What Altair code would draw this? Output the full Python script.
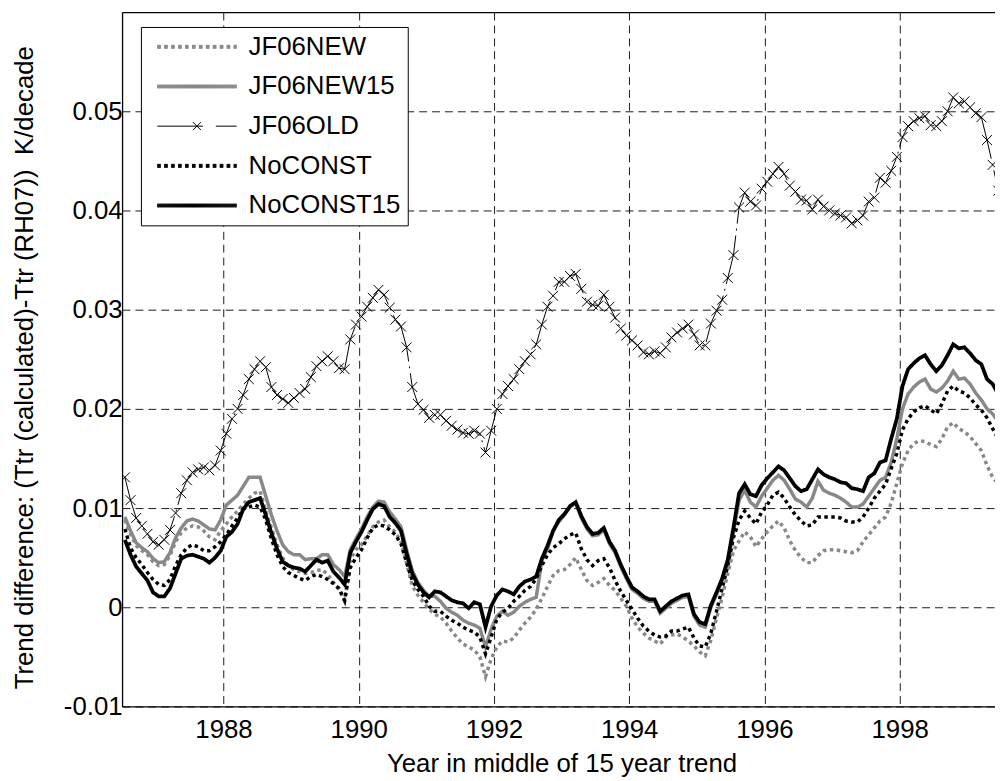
import pandas as pd
import altair as alt

FONT = "Liberation Sans"

series_names = ["JF06NEW", "JF06NEW15", "JF06OLD", "NoCONST", "NoCONST15"]

# monthly values, centre of 15 year trend, starting mid 1986
n_months = 156
years = [1986.5 + (i + 0.5) / 12 for i in range(n_months)]

jf06new = [
    0.0088, 0.0074, 0.0062, 0.0057, 0.0053, 0.0046, 0.0042, 0.0043, 0.0052, 0.0066, 0.0075, 0.0080,
    0.0082, 0.0081, 0.0077, 0.0071, 0.0068, 0.0077, 0.0084, 0.0091, 0.0097, 0.0104, 0.0110, 0.0115,
    0.0117, 0.0097, 0.0080, 0.0063, 0.0050, 0.0042, 0.0038, 0.0036, 0.0034, 0.0035, 0.0037, 0.0038,
    0.0033, 0.0025, 0.0018, 0.0006, 0.0048, 0.0058, 0.0063, 0.0072, 0.0081, 0.0086, 0.0088, 0.0081,
    0.0076, 0.0066, 0.0044, 0.0022, 0.0012, 0.0005, -0.0002, -0.0007, -0.0010, -0.0016, -0.0024, -0.0031,
    -0.0037, -0.0040, -0.0043, -0.0050, -0.0070, -0.0052, -0.0040, -0.0034, -0.0035, -0.0031, -0.0023, -0.0016,
    -0.0010, -0.0002, 0.0009, 0.0021, 0.0032, 0.0037, 0.0038, 0.0043, 0.0050, 0.0038, 0.0027, 0.0022,
    0.0025, 0.0029, 0.0022, 0.0017, 0.0009, 0.0001, -0.0011, -0.0020, -0.0026, -0.0031, -0.0034, -0.0037,
    -0.0030, -0.0028, -0.0027, -0.0030, -0.0034, -0.0039, -0.0045, -0.0049, -0.0033, -0.0011, 0.0010, 0.0034,
    0.0057, 0.0067, 0.0076, 0.0071, 0.0061, 0.0069, 0.0076, 0.0082, 0.0087, 0.0080, 0.0067, 0.0057,
    0.0050, 0.0045, 0.0045, 0.0052, 0.0057, 0.0058, 0.0058, 0.0057, 0.0056, 0.0055, 0.0057, 0.0066,
    0.0073, 0.0080, 0.0087, 0.0091, 0.0105, 0.0125, 0.0145, 0.0158, 0.0165, 0.0168, 0.0167, 0.0164,
    0.0162, 0.0170, 0.0182, 0.0186, 0.0180, 0.0177, 0.0172, 0.0165, 0.0158, 0.0143, 0.0131, 0.0124,
]

jf06new15 = [
    0.0091, 0.0077, 0.0065, 0.0060, 0.0056, 0.0049, 0.0045, 0.0046, 0.0055, 0.0070, 0.0080, 0.0087,
    0.0089, 0.0087, 0.0083, 0.0079, 0.0078, 0.0088, 0.0103, 0.0108, 0.0113, 0.0122, 0.0131, 0.0131,
    0.0131, 0.0112, 0.0093, 0.0077, 0.0063, 0.0056, 0.0053, 0.0053, 0.0048, 0.0049, 0.0049, 0.0053,
    0.0053, 0.0043, 0.0038, 0.0031, 0.0058, 0.0069, 0.0079, 0.0091, 0.0101, 0.0107, 0.0106, 0.0096,
    0.0089, 0.0081, 0.0058, 0.0037, 0.0025, 0.0017, 0.0011, 0.0011, 0.0006, -0.0001, -0.0005, -0.0008,
    -0.0013, -0.0016, -0.0018, -0.0021, -0.0040, -0.0022, -0.0009, -0.0004, -0.0008, -0.0005, 0.0001, 0.0005,
    0.0008, 0.0010, 0.0047, 0.0059, 0.0077, 0.0086, 0.0093, 0.0101, 0.0105, 0.0090, 0.0079, 0.0072,
    0.0073, 0.0078, 0.0064, 0.0055, 0.0041, 0.0029, 0.0018, 0.0014, 0.0009, 0.0006, 0.0006, -0.0006,
    -0.0001, 0.0004, 0.0007, 0.0010, 0.0011, -0.0009, -0.0018, -0.0020, 0.0000, 0.0013, 0.0027, 0.0046,
    0.0076, 0.0108, 0.0118, 0.0106, 0.0101, 0.0112, 0.0120, 0.0128, 0.0133, 0.0128, 0.0119, 0.0109,
    0.0106, 0.0101, 0.0110, 0.0127, 0.0118, 0.0115, 0.0113, 0.0110, 0.0106, 0.0101, 0.0101, 0.0104,
    0.0112, 0.0120, 0.0128, 0.0131, 0.0146, 0.0170, 0.0200, 0.0215, 0.0222, 0.0227, 0.0230, 0.0220,
    0.0217, 0.0221, 0.0228, 0.0238, 0.0230, 0.0231, 0.0225, 0.0216, 0.0209, 0.0200, 0.0195, 0.0187,
]

jf06old = [
    0.0131, 0.0108, 0.0090, 0.0082, 0.0074, 0.0066, 0.0063, 0.0068, 0.0078, 0.0095, 0.0115, 0.0128,
    0.0136, 0.0139, 0.0141, 0.0138, 0.0143, 0.0158, 0.0175, 0.0190, 0.0200, 0.0214, 0.0230, 0.0240,
    0.0248, 0.0242, 0.0222, 0.0214, 0.0210, 0.0206, 0.0211, 0.0216, 0.0220, 0.0232, 0.0243, 0.0248,
    0.0253, 0.0248, 0.0241, 0.0240, 0.0270, 0.0285, 0.0293, 0.0303, 0.0312, 0.0320, 0.0315, 0.0302,
    0.0290, 0.0283, 0.0262, 0.0222, 0.0205, 0.0199, 0.0191, 0.0194, 0.0194, 0.0188, 0.0183, 0.0179,
    0.0176, 0.0175, 0.0178, 0.0175, 0.0156, 0.0178, 0.0200, 0.0215, 0.0223, 0.0230, 0.0240, 0.0248,
    0.0255, 0.0265, 0.0285, 0.0303, 0.0314, 0.0328, 0.0328, 0.0334, 0.0336, 0.0321, 0.0308, 0.0305,
    0.0304, 0.0315, 0.0303, 0.0292, 0.0281, 0.0274, 0.0269, 0.0264, 0.0257, 0.0255, 0.0258, 0.0256,
    0.0262, 0.0272, 0.0277, 0.0281, 0.0285, 0.0275, 0.0264, 0.0264, 0.0286, 0.0299, 0.0310, 0.0332,
    0.0355, 0.0403, 0.0418, 0.0409, 0.0405, 0.0422, 0.0429, 0.0437, 0.0444, 0.0437, 0.0425, 0.0419,
    0.0411, 0.0410, 0.0401, 0.0411, 0.0404, 0.0400, 0.0397, 0.0395, 0.0393, 0.0387, 0.0390, 0.0395,
    0.0409, 0.0413, 0.0433, 0.0428, 0.0440, 0.0454, 0.0474, 0.0485, 0.0490, 0.0493, 0.0495, 0.0486,
    0.0485, 0.0490, 0.0500, 0.0514, 0.0508, 0.0510, 0.0504, 0.0498, 0.0494, 0.0471, 0.0446, 0.0420,
]

noconst = [
    0.0079, 0.0060, 0.0050, 0.0043, 0.0035, 0.0028, 0.0023, 0.0022, 0.0028, 0.0042, 0.0053, 0.0060,
    0.0063, 0.0061, 0.0057, 0.0057, 0.0061, 0.0066, 0.0073, 0.0082, 0.0090, 0.0099, 0.0101, 0.0103,
    0.0101, 0.0088, 0.0069, 0.0053, 0.0041, 0.0035, 0.0032, 0.0029, 0.0027, 0.0031, 0.0033, 0.0031,
    0.0028, 0.0024, 0.0019, 0.0007, 0.0040, 0.0050, 0.0058, 0.0070, 0.0080, 0.0083, 0.0082, 0.0078,
    0.0073, 0.0064, 0.0045, 0.0027, 0.0018, 0.0011, 0.0001, -0.0004, -0.0004, -0.0009, -0.0013, -0.0016,
    -0.0020, -0.0023, -0.0025, -0.0030, -0.0047, -0.0030, -0.0012, -0.0005, -0.0001, 0.0006, 0.0011, 0.0017,
    0.0021, 0.0029, 0.0042, 0.0053, 0.0060, 0.0064, 0.0069, 0.0073, 0.0075, 0.0059, 0.0048, 0.0042,
    0.0047, 0.0049, 0.0040, 0.0027, 0.0016, 0.0007, -0.0002, -0.0011, -0.0019, -0.0024, -0.0028, -0.0030,
    -0.0029, -0.0024, -0.0024, -0.0022, -0.0020, -0.0031, -0.0039, -0.0040, -0.0026, -0.0004, 0.0019, 0.0042,
    0.0070, 0.0088, 0.0097, 0.0090, 0.0084, 0.0096, 0.0103, 0.0113, 0.0116, 0.0110, 0.0101, 0.0093,
    0.0087, 0.0082, 0.0083, 0.0091, 0.0091, 0.0091, 0.0091, 0.0090, 0.0087, 0.0086, 0.0086, 0.0091,
    0.0100, 0.0110, 0.0117, 0.0124, 0.0140, 0.0155, 0.0179, 0.0190, 0.0197, 0.0201, 0.0203, 0.0199,
    0.0195, 0.0205, 0.0218, 0.0223, 0.0218, 0.0216, 0.0211, 0.0204, 0.0199, 0.0191, 0.0180, 0.0170,
]

noconst15 = [
    0.0068, 0.0053, 0.0041, 0.0034, 0.0027, 0.0015, 0.0011, 0.0011, 0.0019, 0.0034, 0.0049, 0.0052,
    0.0053, 0.0051, 0.0049, 0.0045, 0.0050, 0.0057, 0.0071, 0.0076, 0.0084, 0.0099, 0.0106, 0.0108,
    0.0110, 0.0093, 0.0075, 0.0059, 0.0046, 0.0042, 0.0040, 0.0039, 0.0036, 0.0042, 0.0048, 0.0045,
    0.0047, 0.0036, 0.0030, 0.0023, 0.0055, 0.0066, 0.0076, 0.0088, 0.0099, 0.0104, 0.0102, 0.0091,
    0.0085, 0.0077, 0.0054, 0.0034, 0.0023, 0.0015, 0.0010, 0.0016, 0.0015, 0.0011, 0.0007, 0.0005,
    0.0004, -0.0001, 0.0005, 0.0003, -0.0020, 0.0001, 0.0012, 0.0018, 0.0016, 0.0013, 0.0021, 0.0026,
    0.0028, 0.0031, 0.0049, 0.0062, 0.0077, 0.0088, 0.0094, 0.0102, 0.0106, 0.0092, 0.0081, 0.0074,
    0.0075, 0.0080, 0.0066, 0.0057, 0.0043, 0.0031, 0.0020, 0.0016, 0.0011, 0.0008, 0.0008, -0.0004,
    0.0001, 0.0006, 0.0009, 0.0012, 0.0013, -0.0007, -0.0015, -0.0017, 0.0002, 0.0015, 0.0029, 0.0048,
    0.0080, 0.0115, 0.0124, 0.0114, 0.0112, 0.0123, 0.0130, 0.0136, 0.0142, 0.0138, 0.0130, 0.0122,
    0.0117, 0.0119, 0.0129, 0.0139, 0.0134, 0.0131, 0.0129, 0.0126, 0.0125, 0.0120, 0.0119, 0.0117,
    0.0131, 0.0135, 0.0146, 0.0148, 0.0170, 0.0190, 0.0223, 0.0240, 0.0246, 0.0251, 0.0254, 0.0245,
    0.0238, 0.0244, 0.0254, 0.0265, 0.0261, 0.0262, 0.0256, 0.0249, 0.0245, 0.0230, 0.0225, 0.0215,
]

x_ticks = [1988, 1990, 1992, 1994, 1996, 1998]
y_ticks = [-0.01, 0, 0.01, 0.02, 0.03, 0.04, 0.05]

# line styles, matlab look
colors = ["#888888", "#888888", "#000000", "#000000", "#000000"]
dashes = [[3.5, 3.5], [1, 0], [50, 5, 2, 5], [3.5, 3.5], [1, 0]]
widths = [3.5, 3.5, 1, 3.5, 3.8]

# legend symbols: thick lines are drawn as thin parallel strokes so that
# the thin JF06OLD entry can keep its 1px line with the x marker on it
THICK_SYM = "".join(f"M-4,{o}H4" for o in ["-0.15", "-0.1", "-0.05", "0", "0.05", "0.1", "0.15"])
OLD_SYM = "M-4,0H4M-0.4,-0.4L0.4,0.4M-0.4,0.4L0.4,-0.4"
legend_shapes = [THICK_SYM, THICK_SYM, OLD_SYM, THICK_SYM, THICK_SYM]
legend_dashes = [[3.5, 3.5], [1, 0], [46, 13], [3.5, 3.5], [1, 0]]
X_MARK = "M-1,-1L1,1M-1,1L1,-1"

rows = []
for name, vals in zip(series_names, [jf06new, jf06new15, jf06old, noconst, noconst15]):
    for yr, v in zip(years, vals):
        rows.append({"year": yr, "value": v, "series": name})
source = pd.DataFrame(rows)

x_scale = alt.Scale(domain=[1986.5, 1999.41], nice=False, zero=False)
y_scale = alt.Scale(domain=[-0.01, 0.06], nice=False, zero=False)

grid_style = dict(grid=True, gridColor="#000000", gridDash=[8, 5], gridWidth=1, gridOpacity=0.9)

x_axis = alt.Axis(
    values=x_ticks, format="d", ticks=False, tickSize=0, labelFlush=False,
    labelFont=FONT, labelFontSize=26, labelColor="#000000", labelPadding=10,
    domainColor="#000000", domainWidth=1.3,
    title="Year in middle of 15 year trend", titleFont=FONT, titleFontSize=26,
    titleFontWeight="normal", titleColor="#000000",
    titleX=443, titleY=66, titleBaseline="alphabetic",
    **grid_style,
)
x_axis_top = alt.Axis(
    orient="top", labels=False, ticks=False, grid=False, title=None,
    domainColor="#000000", domainWidth=1.3,
)
y_axis = alt.Axis(
    values=y_ticks, ticks=False, tickSize=0, labelFlush=False,
    labelExpr="datum.value < 0 ? '-' + format(-datum.value, '.2f') : (datum.value == 0 ? '0' : format(datum.value, '.2f'))",
    labelFont=FONT, labelFontSize=26, labelColor="#000000", labelPadding=0,
    domainColor="#000000", domainWidth=1.3,
    title="Trend difference: (Ttr (calculated)-Ttr (RH07))\u00a0\u00a0K/decade",
    titleFont=FONT, titleFontSize=26, titleFontWeight="normal", titleColor="#000000",
    titleX=-90, titleY=358, titleBaseline="alphabetic",
    **grid_style,
)

base = alt.Chart(source)
layers = []
for i, name in enumerate(series_names):
    if i == 0:
        xa = x_axis
    elif i == 1:
        xa = x_axis_top
    else:
        xa = None
    layers.append(
        base.transform_filter(alt.datum.series == name)
        .mark_line(color=colors[i], strokeDash=dashes[i], strokeWidth=widths[i], clip=True)
        .encode(
            x=alt.X("year:Q", scale=x_scale, axis=xa),
            y=alt.Y("value:Q", scale=y_scale, axis=y_axis),
        )
    )

# x markers on the old series
markers = base.transform_filter(alt.datum.series == "JF06OLD").mark_point(
    shape=X_MARK, size=100, filled=False, color="#000000", strokeWidth=1, opacity=1, clip=True
).encode(
    x=alt.X("year:Q", scale=x_scale, axis=None),
    y=alt.Y("value:Q", scale=y_scale, axis=y_axis),
)

# legend only layer (no rows drawn)
legend_layer = base.transform_filter("datum.year < 0").mark_point(
    filled=False, opacity=1, strokeWidth=1
).encode(
    x=alt.X("year:Q", scale=x_scale, axis=None),
    y=alt.Y("value:Q", scale=y_scale, axis=y_axis),
    color=alt.Color(
        "series:N",
        scale=alt.Scale(domain=series_names, range=colors),
        legend=alt.Legend(
            title=None, orient="none", legendX=19, legendY=15,
            strokeColor="#000000", fillColor="#ffffff", padding=7,
            symbolSize=400, symbolStrokeWidth=1, rowPadding=14,
            symbolOffset=36.5, labelOffset=39,
            labelFont=FONT, labelFontSize=26, labelColor="#000000",
        ),
    ),
    shape=alt.Shape("series:N", scale=alt.Scale(domain=series_names, range=legend_shapes)),
    strokeDash=alt.StrokeDash("series:N", scale=alt.Scale(domain=series_names, range=legend_dashes)),
)

chart = alt.layer(*layers, markers, legend_layer).resolve_axis(x="independent").properties(
    width=880,
    height=700,
    padding={"left": 115, "top": 1, "right": 0, "bottom": 70},
    autosize=alt.AutoSizeParams(type="none"),
).configure_view(stroke=None)

chart.save("out.html", embed_options={"renderer": "svg", "actions": False})
